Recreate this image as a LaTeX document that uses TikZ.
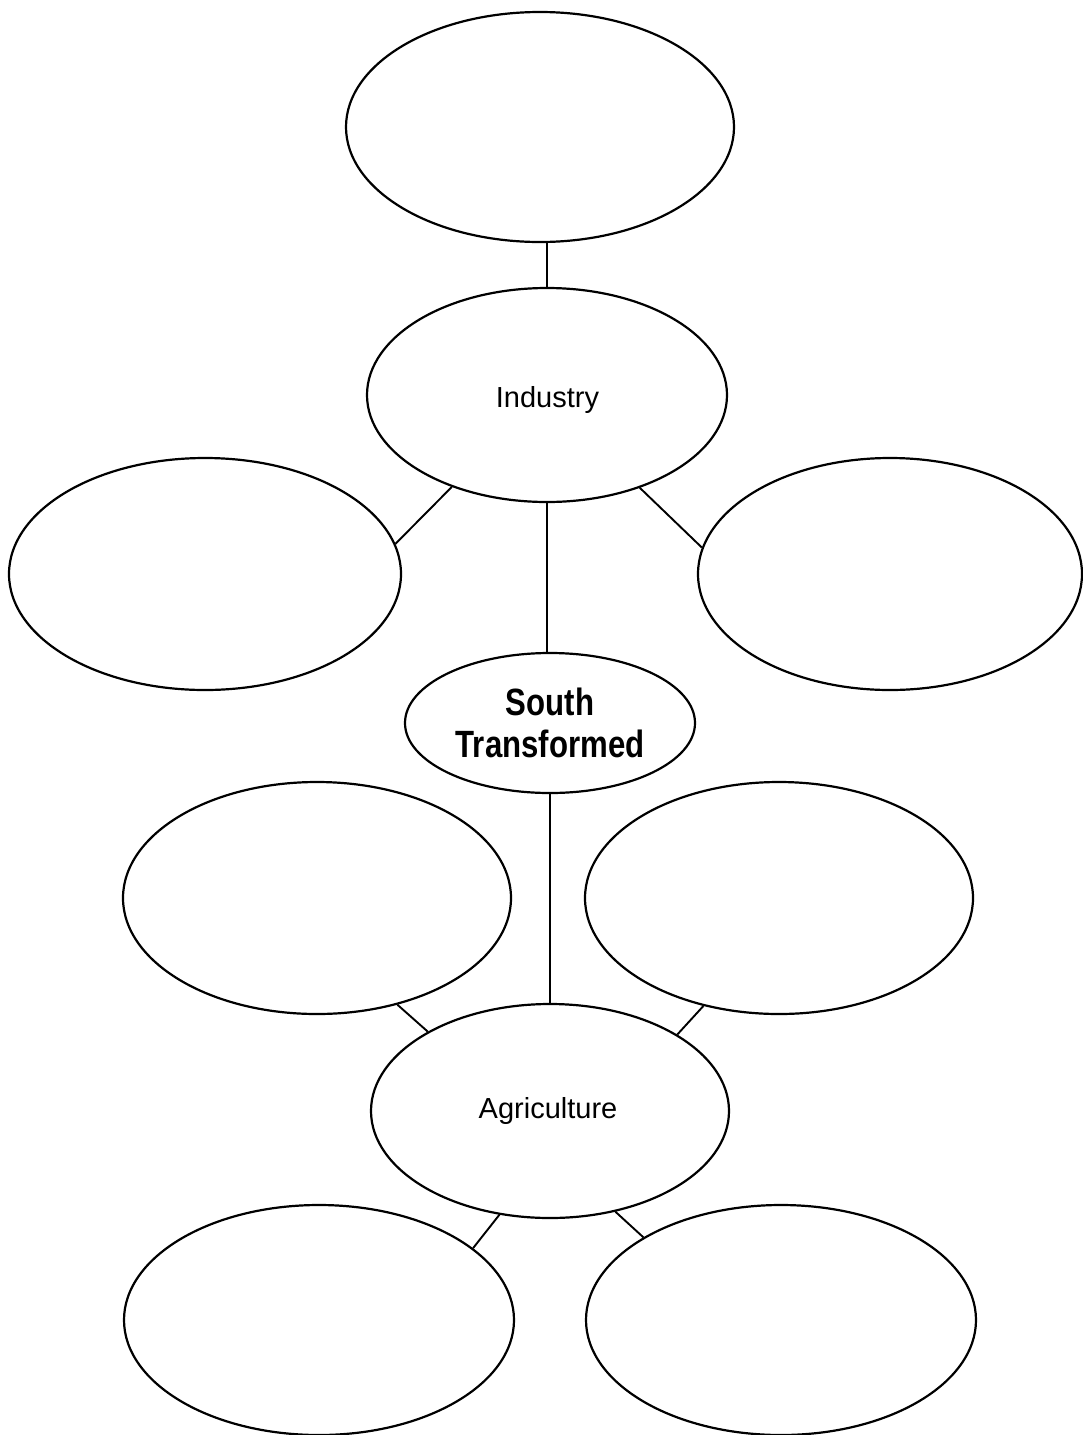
\documentclass[tikz,border=0pt]{standalone}
\usepackage{fontspec}
\setmainfont{Liberation Sans}
\newfontfamily\condbold[FakeStretch=0.82]{Liberation Sans Bold}
\usetikzlibrary{shapes.geometric}
\tikzset{
  bubble/.style={draw=black, line width=1.1pt, ellipse, inner sep=0pt, fill=white},
  link/.style={draw=black, line width=0.95pt},
  lbltext/.style={font=\fontsize{14.5}{17}\selectfont, inner sep=0pt},
}
\begin{document}
\begin{tikzpicture}[x=0.5pt, y=-0.5pt]
\useasboundingbox[fill=white] (0,0) rectangle (1082,1435);
% nodes
\node[bubble, minimum width=194pt, minimum height=115pt] (top) at (540,127) {};
\node[bubble, minimum width=180pt, minimum height=107pt] (ind) at (547,395) {};
\node[lbltext] (indt) at (547.5,400) {Industry};
\node[bubble, minimum width=196pt, minimum height=116pt] (lm) at (205,574) {};
\node[bubble, minimum width=192pt, minimum height=116pt] (rm) at (890,574) {};
\node[bubble, minimum width=145pt, minimum height=70pt, align=center,
      font=\condbold\fontsize{19}{21}\selectfont] (st) at (550,723) {South\\Transformed};
\node[bubble, minimum width=194pt, minimum height=116pt] (ll) at (317,898) {};
\node[bubble, minimum width=194pt, minimum height=116pt] (rl) at (779,898) {};
\node[bubble, minimum width=179pt, minimum height=107pt] (ag) at (550,1111) {};
\node[lbltext] (agt) at (548,1111) {Agriculture};
\node[bubble, minimum width=195pt, minimum height=115pt] (bl) at (319,1320) {};
\node[bubble, minimum width=195pt, minimum height=115pt] (br) at (781,1320) {};
% connectors
\draw[link] (ind.north) -- (ind.north |- top.south);
\draw[link] (ind.224) -- (lm.9.4);
\draw[link] (ind.315) -- (rm.172);
\draw[link] (ind.south) -- (ind.south |- st.north);
\draw[link] (st.south) -- (st.south |- ag.north);
\draw[link] (ll.-53.3) -- (ag.147.6);
\draw[link] (rl.235.3) -- (ag.31.4);
\draw[link] (ag.244) -- (bl.25.8);
\draw[link] (ag.303.6) -- (br.149);
\end{tikzpicture}
\end{document}
